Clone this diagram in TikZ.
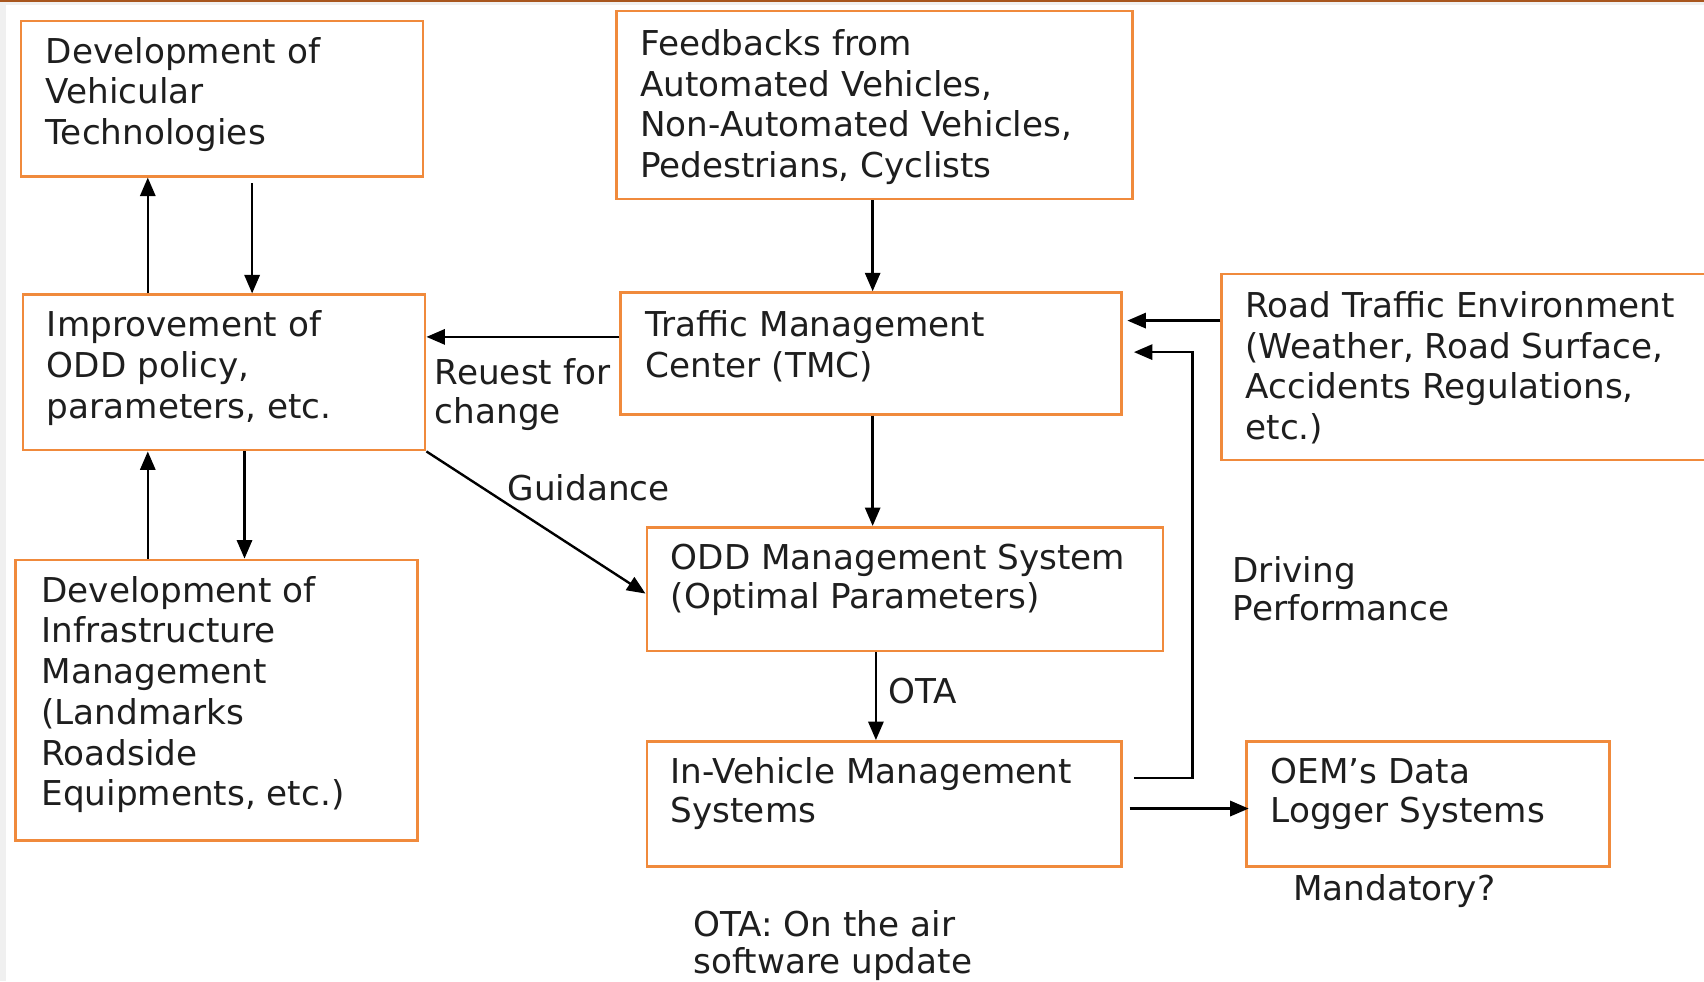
\documentclass[tikz,border=0pt]{standalone}
\usepackage{fontspec}
\setmainfont{DejaVu Sans}
\usetikzlibrary{arrows.meta,calc}
\definecolor{boxorange}{HTML}{F08A3C}
\definecolor{topline}{HTML}{A8561E}
\definecolor{framegray}{HTML}{F0F0F0}
\definecolor{ink}{HTML}{1E1E1E}
\tikzset{
  box/.style={draw=boxorange, line width=2.4pt, rectangle, inner sep=0pt, anchor=north west},
  txt/.style={font=\fontsize{31.5}{37.5}\selectfont, text=ink, align=left, anchor=base west, inner sep=0pt},
  arr/.style={draw=black, line width=2.2pt, -{Triangle[length=17pt,width=14pt]}},
}
\begin{document}
\begin{tikzpicture}[x=1pt,y=-1pt]
  \useasboundingbox (0,0) rectangle (1568,903);
  % page frame
  \fill[framegray] (0,0) rectangle (1568,903);
  \fill[white] (5.5,5) rectangle (1568,903);
  \fill[topline] (0,0) rectangle (1568,1.4);

  \begin{scope}
  \clip (0,0) rectangle (1568,903);
  % boxes
  \node[box, minimum width=370pt, minimum height=143pt] (dv)  at (18,18)   {};
  \node[box, minimum width=475pt, minimum height=173pt] (fb)  at (566,9)   {};
  \node[box, minimum width=370pt, minimum height=143pt] (im)  at (20,270)  {};
  \node[box, minimum width=461pt, minimum height=112pt] (tmc) at (570,268) {};
  \node[box, minimum width=470pt, minimum height=171pt] (rt)  at (1123,251){};
  \node[box, minimum width=370pt, minimum height=258pt] (di)  at (13,514)  {};
  \node[box, minimum width=475pt, minimum height=114pt] (odd) at (594,484) {};
  \node[box, minimum width=437pt, minimum height=115pt] (iv)  at (594,681) {};
  \node[box, minimum width=334pt, minimum height=115pt] (oem) at (1146,681){};

  % box texts (placed at the baseline of their last line)
  \node[txt] (dvt)  at (42,133)    {Development of\\Vehicular\\Technologies};
  \node[txt] (fbt)  at (589,163.5) {Feedbacks from\\Automated Vehicles,\\Non-Automated Vehicles,\\Pedestrians, Cyclists};
  \node[txt] (imt)  at (43,385)    {Improvement of\\ODD policy,\\parameters, etc.};
  \node[txt] (tmct) at (594,347.5) {Traffic Management\\Center (TMC)};
  \node[txt] (rtt)  at (1146,404.5){Road Traffic Environment\\(Weather, Road Surface,\\Accidents Regulations,\\etc.)};
  \node[txt] (dit)  at (38,741.5)  {Development of\\Infrastructure\\Management\\(Landmarks\\Roadside\\Equipments, etc.)};
  \node[txt, font=\fontsize{31.5}{36}\selectfont] (oddt) at (617,560) {ODD Management System\\(Optimal Parameters)};
  \node[txt, font=\fontsize{31.5}{36}\selectfont] (ivt)  at (617,757) {In-Vehicle Management\\Systems};
  \node[txt, font=\fontsize{31.5}{36}\selectfont] (oemt) at (1169,757){OEM’s Data\\Logger Systems};

  % free labels
  \node[txt, font=\fontsize{31.5}{36}\selectfont] (req)   at (400,390)  {Reuest for\\change};
  \node[txt] (guide) at (467,461)  {Guidance};
  \node[txt, font=\fontsize{31.5}{35}\selectfont] (drive) at (1134,571) {Driving\\Performance};
  \node[txt] (ota)   at (817,647)  {OTA};
  \node[txt] (mand)  at (1190,829) {Mandatory?};
  \node[txt, font=\fontsize{31.5}{34}\selectfont] (note)  at (638,896)  {OTA: On the air\\software update};

  % connectors between the left column boxes
  \draw[arr] ([xshift=116pt]im.north west) -- ([xshift=116pt]im.north west |- dv.south);
  \draw[arr, shorten <=5pt] ([xshift=214pt]dv.south west) -- ([xshift=214pt]dv.south west |- im.north);
  \draw[arr] ([xshift=123pt]di.north west) -- ([xshift=123pt]di.north west |- im.south);
  \draw[arr] ([xshift=212pt]di.north west |- im.south) -- ([xshift=212pt]di.north west);

  % traffic management centre links
  \draw[arr] ([yshift=-42pt]tmc.north west) -- ([yshift=-42pt]tmc.north west -| im.east);
  \draw[arr] ([xshift=237pt]fb.south west) -- ([xshift=237pt]fb.south west |- tmc.north);
  \draw[arr] ([xshift=233pt]tmc.south west) -- ([xshift=233pt]tmc.south west |- odd.north);
  \draw[arr, shorten >=4pt] ([yshift=-44pt]rt.north west) -- ([yshift=-44pt]rt.north west -| tmc.east);
  \draw[arr] ([xshift=10pt,yshift=-35pt]iv.north east) -- ++(54,0)
        |- ([xshift=10pt,yshift=-56pt]tmc.north east);

  % guidance, OTA and logging
  \draw[arr] (im.south east) -- ([yshift=-4pt]odd.west);
  \draw[arr] ([xshift=212pt]odd.south west) -- ([xshift=212pt]odd.south west |- iv.north);
  \draw[arr, shorten >=3pt] ([xshift=6pt,yshift=-63pt]iv.north east) -- ([xshift=6pt,yshift=-63pt]iv.north east -| oem.west);
  \end{scope}
\end{tikzpicture}
\end{document}
